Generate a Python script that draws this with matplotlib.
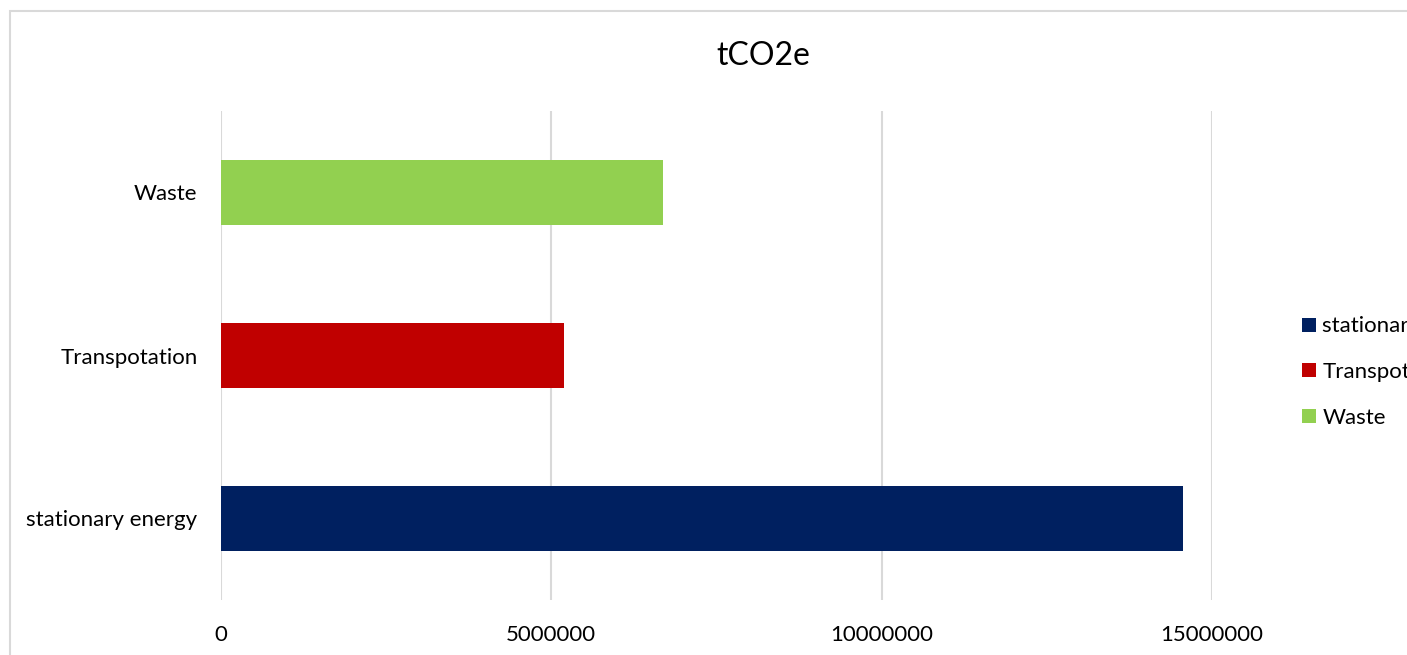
import matplotlib.pyplot as plt
from matplotlib.patches import Rectangle

plt.rcParams["font.family"] = ["Lato", "DejaVu Sans"]

categories = ["stationary energy", "Transpotation", "Waste"]
emissions = [14560000, 5190000, 6690000]
colors = ["#002060", "#C00000", "#92D050"]
x_ticks = [0, 5000000, 10000000, 15000000]

W, H = 1407, 655
fig = plt.figure(figsize=(W / 100, H / 100), dpi=100)

# chart border (only the left and top edges fall inside the image)
fig.patches.append(
    Rectangle((10 / W, -0.2), 1.2, 1 - 11 / H + 0.2, transform=fig.transFigure,
              fill=False, edgecolor="#d9d9d9", linewidth=1.5)
)

ax = fig.add_axes([221 / W, 1 - 600 / H, (1212 - 221) / W, (600 - 111) / H])

for i, (cat, val, col) in enumerate(zip(categories, emissions, colors)):
    ax.barh(i, val, height=0.4, color=col, label=cat, zorder=3)

ax.set_xlim(0, 15000000)
ax.set_ylim(-0.5, len(categories) - 0.5)
ax.set_xticks(x_ticks)
ax.set_xticklabels([str(t) for t in x_ticks])
ax.set_yticks(range(len(categories)))
ax.set_yticklabels(categories)
ax.tick_params(axis="both", length=0, labelsize=16, colors="#000000")
ax.tick_params(axis="x", pad=18)
ax.tick_params(axis="y", pad=17)
ax.grid(axis="x", color="#d9d9d9", linewidth=1.5, zorder=0)
ax.set_axisbelow(True)
for s in ax.spines.values():
    s.set_visible(False)

fig.text(763 / W, 1 - 56 / H, "tCO2e", ha="center", va="center", fontsize=23)

fig.legend(loc="center left", bbox_to_anchor=(1302 / W, 1 - 372 / H),
           frameon=False, fontsize=16, handlelength=0.62, handleheight=0.58,
           handletextpad=0.3, labelspacing=1.15, borderpad=0, borderaxespad=0)

fig.savefig("out.png", dpi=100)
